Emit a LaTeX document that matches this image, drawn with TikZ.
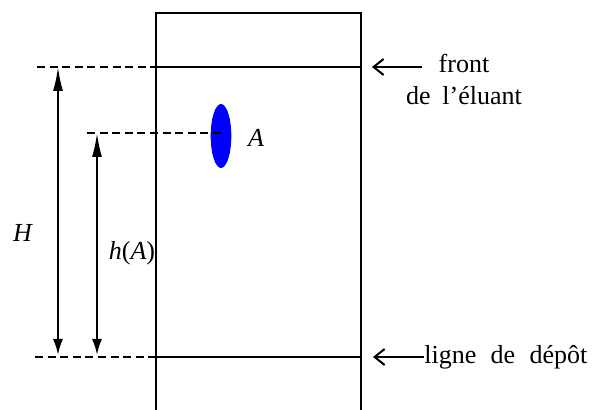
\documentclass[tikz,border=0pt]{standalone}
\usepackage{fontspec}
\setmainfont{Liberation Serif}
\usetikzlibrary{arrows.meta,shapes.geometric}
\begin{document}
\begin{tikzpicture}[
    x=0.5pt, y=-0.5pt,
    every node/.style={font=\fontsize{13}{16}\selectfont, inner sep=0pt},
    plate/.style={line width=1pt},
    guide/.style={line width=0.75pt, dash pattern=on 4pt off 2.3pt},
    height/.style={line width=1pt,
      {Latex[length=8pt,width=5pt]}-{Latex[length=12pt,width=5pt]}},
    pointer/.style={line width=1pt, -{Straight Barb[length=5pt,width=8pt]}}
  ]
    \useasboundingbox (0,0) rectangle (593,410);

    % Plate --------------------------------------------------------
    \draw[plate] (156,410) -- (156,13) -- (361,13) -- (361,410);
    \coordinate (frontL) at (156,67);
    \coordinate (frontR) at (361,67);
    \coordinate (depotL) at (156,357);
    \coordinate (depotR) at (361,357);
    \draw[plate] (frontL) -- (frontR);
    \draw[plate] (depotL) -- (depotR);

    % Spot A -------------------------------------------------------
    \node[ellipse, fill=blue, minimum width=10.3pt, minimum height=32pt]
      (spot) at (221,136) {};
    \node (A) at (256,138) {\textit{A}};

    % Dashed guide lines -------------------------------------------
    \coordinate (frontG) at (37,67);
    \coordinate (depotG) at (35,357);
    \coordinate (spotG) at (87,133);
    \draw[guide] (frontG) -- (frontL);
    \draw[guide] (depotG) -- (depotL);
    \draw[guide] (spotG) -- (spotG -| spot.center);

    % Heights H and h(A) -------------------------------------------
    \coordinate (Hbot) at (58,355);
    \coordinate (Htop) at (58,67);
    \coordinate (hbot) at (97,355);
    \coordinate (htop) at (97,133);
    \draw[height] (Hbot) -- (Htop);
    \draw[height] (hbot) -- (htop);
    \node (H) at (23,233) {\textit{H}};
    \node (hA) at (132,253) {\textit{h}(\textit{A})};

    % Labels on the right ------------------------------------------
    \coordinate (fronttail) at (422,67);
    \coordinate (fronttip) at (372,67);
    \draw[pointer] (fronttail) -- (fronttip);
    \node[align=center] (front) at (464,79)
      {front\\de\hspace{0.45em}l’éluant};

    \node[anchor=west] (depot) at (424,357)
      {ligne\hspace{0.55em}de\hspace{0.55em}dépôt};
    \coordinate (depottip) at (373,357);
    \draw[pointer] (depot.west) -- (depottip);

  \end{tikzpicture}
\end{document}
